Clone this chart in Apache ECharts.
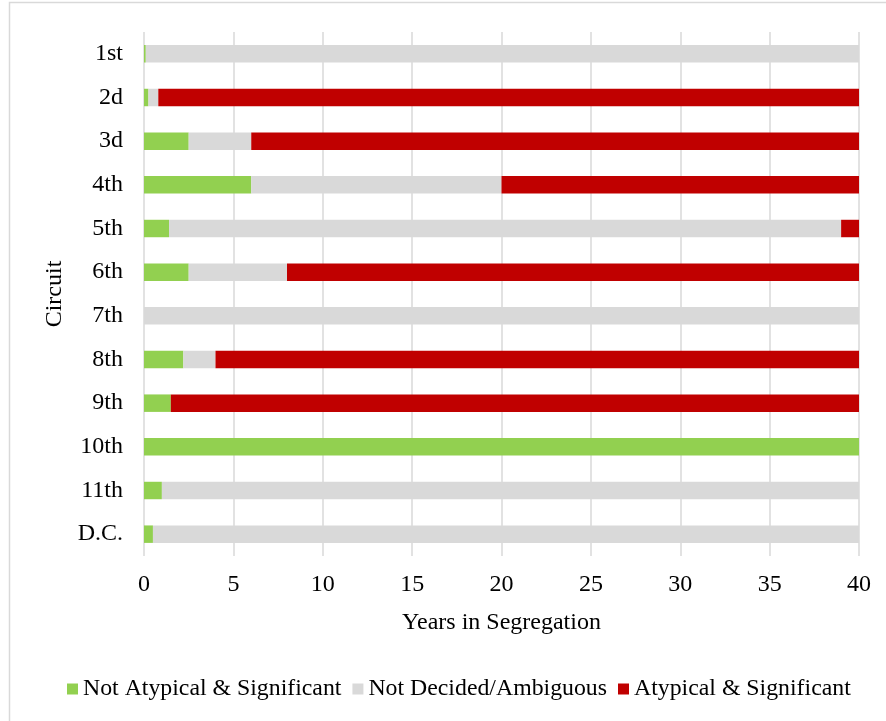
<!DOCTYPE html>
<html>
<head>
<meta charset="utf-8">
<script src="https://cdn.jsdelivr.net/npm/echarts@6/dist/echarts.min.js"></script>
<style>
html,body{margin:0;padding:0;background:#fff;}
#chart{width:886px;height:721px;}
</style>
</head>
<body>
<div id="chart"></div>
<script>
const categories = ['1st','2d','3d','4th','5th','6th','7th','8th','9th','10th','11th','D.C.'];
const notAtypical = [0.1, 0.25, 2.5, 6, 1.4, 2.5, 0, 2.2, 1.5, 40, 1, 0.5];
const notDecided = [39.9, 0.55, 3.5, 14, 37.6, 5.5, 40, 1.8, 0, 0, 39, 39.5];
const atypical = [0, 39.2, 34, 20, 1, 32, 0, 36, 38.5, 0, 0, 0];
const xTicks = [0, 5, 10, 15, 20, 25, 30, 35, 40];

const font = '"Liberation Serif", "Times New Roman", serif';
const chart = echarts.init(document.getElementById('chart'));
const mk = (name, data, color) => ({
  name, type: 'bar', stack: 'total', data, barWidth: '40%',
  itemStyle: { color }, emphasis: { disabled: true }
});
chart.setOption({
  animation: false,
  textStyle: { fontFamily: font, color: '#000' },
  graphic: [{
    type: 'rect', shape: { x: 9.5, y: 2.5, width: 1000, height: 1000 },
    style: { fill: 'none', stroke: '#d9d9d9', lineWidth: 1.5 }, silent: true
  }],
  grid: { left: 144, right: 27, top: 32, bottom: 165 },
  legend: {
    bottom: 15, left: 62, padding: 5,
    itemWidth: 11, itemHeight: 11, itemGap: 11,
    textStyle: { fontFamily: font, fontSize: 23.8, color: '#000' },
    data: ['Not Atypical & Significant', 'Not Decided/Ambiguous', 'Atypical & Significant'],
    icon: 'rect'
  },
  xAxis: {
    type: 'value', min: xTicks[0], max: xTicks[xTicks.length - 1], interval: 5,
    name: 'Years in Segregation', nameLocation: 'middle', nameGap: 55,
    nameTextStyle: { fontFamily: font, fontSize: 24, color: '#000' },
    axisLine: { show: false }, axisTick: { show: false },
    axisLabel: { fontFamily: font, fontSize: 24, color: '#000', margin: 17 },
    splitLine: { show: true, lineStyle: { color: '#d9d9d9', width: 1.5 } }
  },
  yAxis: {
    type: 'category', data: categories, inverse: true,
    name: 'Circuit', nameLocation: 'middle', nameGap: 73, nameRotate: 90,
    nameTextStyle: { fontFamily: font, fontSize: 24, color: '#000' },
    axisLine: { show: false }, axisTick: { show: false },
    axisLabel: { fontFamily: font, fontSize: 24, color: '#000', margin: 21 }
  },
  series: [
    mk('Not Atypical & Significant', notAtypical, '#92d050'),
    mk('Not Decided/Ambiguous', notDecided, '#d9d9d9'),
    mk('Atypical & Significant', atypical, '#c00000')
  ]
});
</script>
</body>
</html>
